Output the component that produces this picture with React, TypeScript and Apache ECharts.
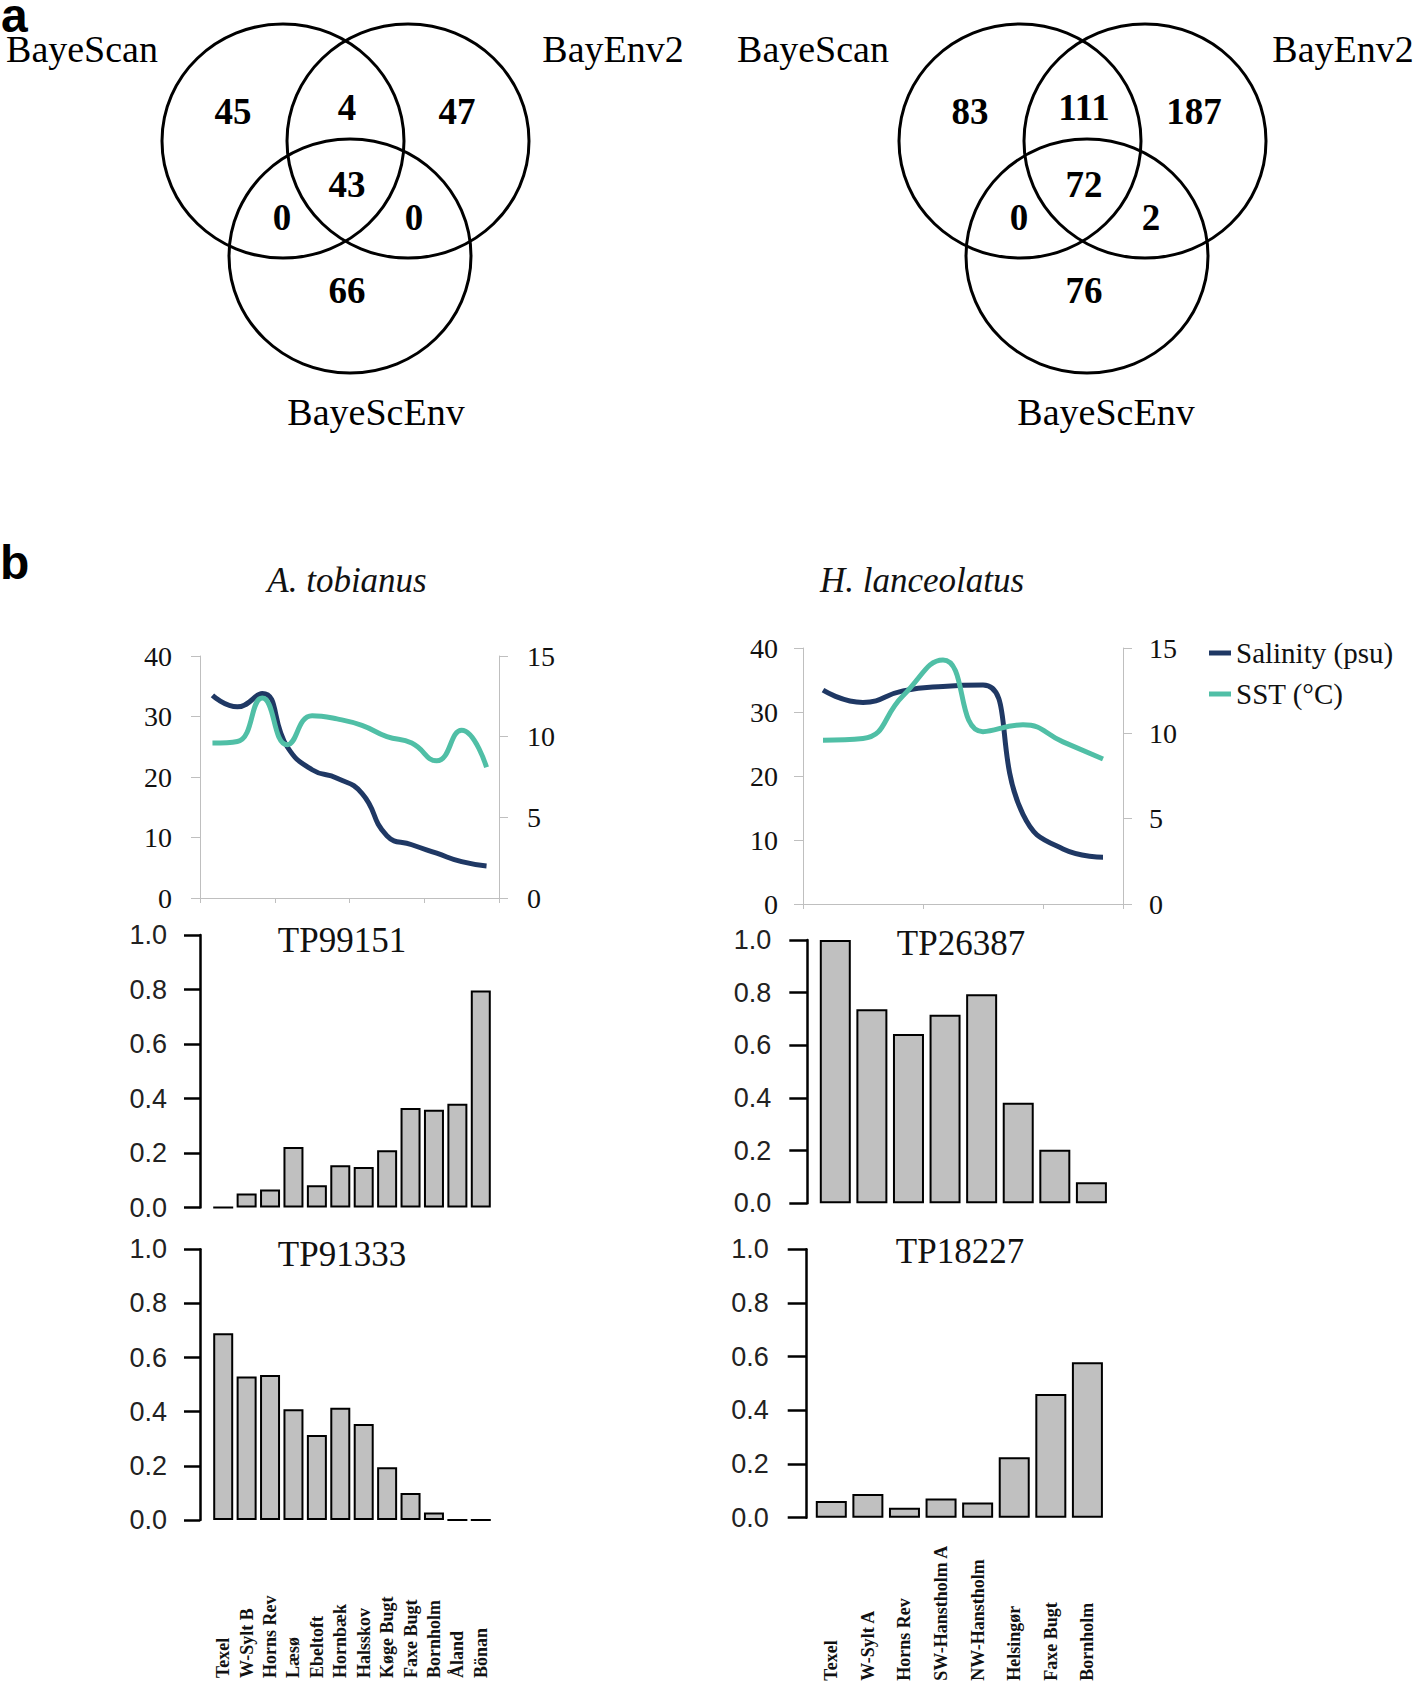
import React, { useEffect, useRef } from "react";
import * as echarts from "echarts";

// ---------- data ----------
const vennSets = ["BayeScan", "BayEnv2", "BayeScEnv"];
// region order: BayeScan only, BayeScan∩BayEnv2, BayEnv2 only, all three,
// BayeScan∩BayeScEnv, BayEnv2∩BayeScEnv, BayeScEnv only
const vennLeftCounts = [45, 4, 47, 43, 0, 0, 66];
const vennRightCounts = [83, 111, 187, 72, 0, 2, 76];

const speciesTitles = ["A. tobianus", "H. lanceolatus"];
const sitesA = ["Texel", "W-Sylt B", "Horns Rev", "Læsø", "Ebeltoft", "Hornbæk", "Halsskov", "Køge Bugt", "Faxe Bugt", "Bornholm", "Åland", "Bönan"];
const sitesH = ["Texel", "W-Sylt A", "Horns Rev", "SW-Hanstholm A", "NW-Hanstholm", "Helsingør", "Faxe Bugt", "Bornholm"];

const salinityA = [33.5, 31.6, 33.8, 25.0, 21.2, 19.8, 17.3, 10.3, 8.8, 7.4, 6.0, 5.3];
const sstA = [9.6, 9.7, 12.4, 9.5, 11.3, 11.1, 10.7, 10.0, 9.6, 8.5, 10.4, 8.1];
const salinityH = [33.4, 31.5, 33.3, 34.0, 34.2, 14.0, 8.6, 7.3];
const sstH = [9.6, 9.7, 12.2, 14.3, 10.1, 10.5, 9.5, 8.5];

const markerTitles = ["TP99151", "TP91333", "TP26387", "TP18227"];
const tp99151 = [0, 0.051, 0.066, 0.222, 0.082, 0.155, 0.149, 0.21, 0.365, 0.359, 0.381, 0.796];
const tp91333 = [0.69, 0.53, 0.536, 0.409, 0.314, 0.415, 0.355, 0.195, 0.1, 0.028, 0, 0];
const tp26387 = [1.0, 0.737, 0.643, 0.716, 0.794, 0.382, 0.203, 0.08];
const tp18227 = [0.062, 0.088, 0.037, 0.072, 0.057, 0.225, 0.461, 0.579];

const legendNames = ["Salinity (psu)", "SST (°C)"];

// ---------- style ----------
const SERIF = '"Liberation Serif", "Times New Roman", serif';
const SANS = '"Liberation Sans", Arial, sans-serif';
const NAVY = "#1f3864";
const TEAL = "#50bfa6";
const AXIS_GRAY = "#bfbfbf";
const BAR_FILL = "#c0c0c0";

function txt(text: string, x: number, y: number, size: number, opts: any = {}) {
  const style: any = {
    text,
    fontSize: size,
    fontFamily: opts.family || SERIF,
    fontWeight: opts.weight || "normal",
    fontStyle: opts.style || "normal",
    fill: opts.fill || "#111",
    align: opts.align || "center",
    verticalAlign: "middle",
  };
  if (opts.lineHeight) style.lineHeight = opts.lineHeight;
  return { type: "text", silent: true, x, y, style };
}

const circleCenters = [
  [283, 141],
  [408, 141],
  [350, 256],
];
const regionPos = [
  [233, 111],
  [347, 107],
  [457, 111],
  [347, 184],
  [282, 217],
  [414, 217],
  [347, 290],
];

function venn(ox: number, counts: number[], labelPos: number[][]) {
  const els: any[] = [];
  circleCenters.forEach(([cx, cy]) => {
    els.push({
      type: "ellipse",
      silent: true,
      shape: { cx: cx + ox, cy, rx: 121, ry: 117 },
      style: { fill: "none", stroke: "#000", lineWidth: 3 },
    });
  });
  counts.forEach((c, i) => {
    els.push(txt(String(c), regionPos[i][0] + ox, regionPos[i][1], 37, { weight: "bold", fill: "#000" }));
  });
  vennSets.forEach((s, i) => {
    els.push(txt(s, labelPos[i][0], labelPos[i][1], 38, { fill: "#000" }));
  });
  return els;
}

function lineYAxis(grid: number, pos: string, max: number, interval: number, margin: number) {
  return {
    type: "value",
    gridIndex: grid,
    position: pos,
    min: 0,
    max,
    interval,
    axisLine: { show: true, lineStyle: { color: AXIS_GRAY, width: 1 } },
    axisTick: { show: true, length: 9, lineStyle: { color: AXIS_GRAY, width: 1 } },
    axisLabel: { margin, fontFamily: SERIF, fontSize: 28, color: "#111" },
    splitLine: { show: false },
  };
}

function barYAxis(grid: number, offset: number, tick: number, margin: number) {
  return {
    type: "value",
    gridIndex: grid,
    position: "left",
    offset,
    min: 0,
    max: 1,
    interval: 0.2,
    axisLine: { show: true, lineStyle: { color: "#000", width: 2.5 } },
    axisTick: { show: true, length: tick, lineStyle: { color: "#000", width: 2.5 } },
    axisLabel: {
      margin,
      fontFamily: SANS,
      fontSize: 27,
      color: "#222",
      formatter: (v: number) => v.toFixed(1),
    },
    splitLine: { show: false },
  };
}

function lineXAxis(grid: number, data: string[]) {
  return {
    type: "category",
    gridIndex: grid,
    data,
    boundaryGap: true,
    axisLine: { show: true, lineStyle: { color: AXIS_GRAY, width: 1 } },
    axisTick: { show: true, length: 5, lineStyle: { color: AXIS_GRAY, width: 1 } },
    axisLabel: { show: false },
    splitLine: { show: false },
  };
}

function barXAxis(grid: number, data: string[], labelMargin: number | null) {
  return {
    type: "category",
    gridIndex: grid,
    data,
    boundaryGap: true,
    axisLine: { show: false },
    axisTick: { show: false },
    axisLabel:
      labelMargin === null
        ? { show: false }
        : {
            show: true,
            interval: 0,
            rotate: 90,
            align: "left",
            verticalAlign: "middle",
            margin: labelMargin,
            fontFamily: SERIF,
            fontWeight: "bold",
            fontSize: 18,
            color: "#111",
          },
    splitLine: { show: false },
  };
}

function barSeries(xi: number, yi: number, data: number[], width: number) {
  return {
    type: "bar",
    xAxisIndex: xi,
    yAxisIndex: yi,
    data,
    barWidth: width,
    itemStyle: { color: BAR_FILL, borderColor: "#000", borderWidth: 2 },
    silent: true,
  };
}

function lineSeries(name: string, xi: number, yi: number, data: number[], color: string) {
  return {
    type: "line",
    name,
    xAxisIndex: xi,
    yAxisIndex: yi,
    data,
    smooth: 0.5,
    showSymbol: false,
    symbol: "none",
    lineStyle: { width: 5, color },
    itemStyle: { color },
    silent: true,
  };
}

export default function App() {
  const ref = useRef<HTMLDivElement>(null);

  useEffect(() => {
    document.body.style.margin = "0";
    if (!ref.current) return;
    const chart = echarts.init(ref.current, undefined, { renderer: "svg" });

    const graphics: any[] = [
      txt("a", 1, 15, 48, { family: SANS, weight: "bold", align: "left", fill: "#000", lineHeight: 28 }),
      txt("b", 0, 562, 48, { family: SANS, weight: "bold", align: "left", fill: "#000", lineHeight: 40 }),
      ...venn(0, vennLeftCounts, [
        [82, 49],
        [613, 49],
        [376, 412],
      ]),
      ...venn(737, vennRightCounts, [
        [813, 49],
        [1343, 49],
        [1106, 412],
      ]),
      txt(speciesTitles[0], 347, 580, 35, { style: "italic" }),
      txt(speciesTitles[1], 922, 580, 35, { style: "italic" }),
      txt(markerTitles[0], 342, 940, 35),
      txt(markerTitles[1], 342, 1254, 35),
      txt(markerTitles[2], 961, 943, 35),
      txt(markerTitles[3], 960, 1251, 35),
    ];

    const option: any = {
      animation: false,
      backgroundColor: "#fff",
      graphic: graphics,
      legend: {
        orient: "vertical",
        left: 1204,
        top: 632,
        itemWidth: 22,
        itemHeight: 5,
        itemGap: 9,
        icon: "rect",
        data: legendNames,
        textStyle: { fontFamily: SERIF, fontSize: 29, color: "#111", lineHeight: 32 },
        selectedMode: false,
      },
      grid: [
        { left: 200, top: 656, width: 299, height: 242 },
        { left: 803, top: 648, width: 320, height: 256 },
        { left: 211.5, top: 935, width: 281, height: 272.5 },
        { left: 211.5, top: 1249.3, width: 281, height: 270.7 },
        { left: 817, top: 940, width: 292.7, height: 263.3 },
        { left: 813, top: 1249.3, width: 292.7, height: 268.4 },
      ],
      xAxis: [
        lineXAxis(0, sitesA),
        lineXAxis(1, sitesH),
        barXAxis(2, sitesA, null),
        barXAxis(3, sitesA, 158),
        barXAxis(4, sitesH, null),
        barXAxis(5, sitesH, 163),
      ],
      yAxis: [
        lineYAxis(0, "left", 40, 10, 28),
        lineYAxis(0, "right", 15, 5, 28),
        lineYAxis(1, "left", 40, 10, 25),
        lineYAxis(1, "right", 15, 5, 26),
        barYAxis(2, 11.5, 16, 33),
        barYAxis(3, 11.5, 16, 33),
        barYAxis(4, 9.7, 18, 36),
        barYAxis(5, 6.3, 19, 38),
      ],
      series: [
        lineSeries(legendNames[0], 0, 0, salinityA, NAVY),
        lineSeries(legendNames[1], 0, 1, sstA, TEAL),
        lineSeries(legendNames[0], 1, 2, salinityH, NAVY),
        lineSeries(legendNames[1], 1, 3, sstH, TEAL),
        barSeries(2, 4, tp99151, 20),
        barSeries(3, 5, tp91333, 20),
        barSeries(4, 6, tp26387, 31),
        barSeries(5, 7, tp18227, 31),
      ],
    };

    chart.setOption(option);
    return () => chart.dispose();
  }, []);

  return <div ref={ref} style={{ width: 1418, height: 1685 }} />;
}
